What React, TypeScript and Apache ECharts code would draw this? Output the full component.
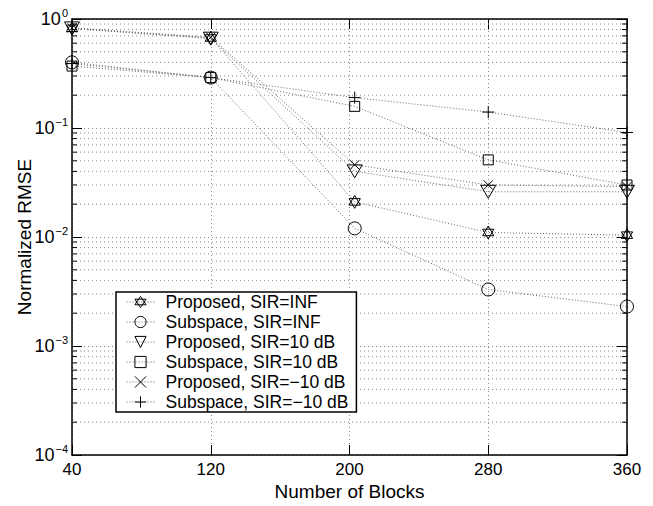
import React, { useEffect, useRef } from "react";
import * as echarts from "echarts";

const blocks = [40, 120, 203, 280, 360];
const proposedInf = [0.82, 0.67, 0.021, 0.011, 0.0104];
const subspaceInf = [0.4, 0.29, 0.012, 0.0033, 0.0023];
const proposed10 = [0.82, 0.66, 0.04, 0.026, 0.026];
const subspace10 = [0.37, 0.29, 0.158, 0.051, 0.03];
const proposedM10 = [0.83, 0.68, 0.046, 0.03, 0.029];
const subspaceM10 = [0.39, 0.29, 0.19, 0.14, 0.091];

const seriesNames = [
  "Proposed, SIR=INF",
  "Subspace, SIR=INF",
  "Proposed, SIR=10 dB",
  "Subspace, SIR=10 dB",
  "Proposed, SIR=\u221210 dB",
  "Subspace, SIR=\u221210 dB",
];

const xTicks = { min: 40, max: 360, interval: 80 };
const yRange = { min: 1e-4, max: 1 };
const minorMultipliers = [2, 3, 4, 5, 6, 7, 8, 9];
const decades = [-4, -3, -2, -1];

const SYM_HEX = "path://M10,0 L18.66,15 L1.34,15 Z M10,20 L1.34,5 L18.66,5 Z";
const SYM_TRI = "path://M0,0 L20,0 L10,17.32 Z";
const SYM_X = "path://M0,0 L10,10 M10,0 L0,10";
const SYM_PLUS = "path://M5,0 L5,10 M0,5 L10,5";

const FONT = "Liberation Sans, Arial, Helvetica, sans-serif";

export default function App() {
  const ref = useRef<HTMLDivElement>(null);
  useEffect(() => {
    document.body.style.margin = "0";
    if (!ref.current) return;
    const chart = echarts.init(ref.current, undefined, { renderer: "svg" });

    const minorVals: number[][] = [];
    decades.forEach((d) =>
      minorMultipliers.forEach((m) => minorVals.push([40, m * Math.pow(10, d)]))
    );

    const lineSt = { color: "#666", width: 1, type: [1, 2] };
    const itemSt = { color: "rgba(0,0,0,0)", borderColor: "#000", borderWidth: 1 };

    const mk = (name: string, data: number[], symbol: string, size: number) => ({
      name,
      type: "line",
      data: blocks.map((b, i) => [b, data[i]]),
      symbol,
      symbolSize: size,
      symbolKeepAspect: true,
      showAllSymbol: true,
      itemStyle: itemSt,
      lineStyle: lineSt,
      z: 5,
    });

    const axisLineStyle = { lineStyle: { color: "#000", width: 1.5 } };

    chart.setOption({
      animation: false,
      textStyle: { fontFamily: FONT },
      grid: { left: 72, top: 19, right: 26, bottom: 49, containLabel: false },
      legend: {
        data: seriesNames,
        orient: "vertical",
        left: 116,
        top: 292,
        itemWidth: 28,
        itemHeight: 14,
        itemGap: 2,
        padding: [1, 8, 1, 10],
        borderColor: "#000",
        borderWidth: 1.5,
        backgroundColor: "#fff",
        itemStyle: itemSt,
        lineStyle: lineSt,
        textStyle: { fontSize: 17.5, color: "#000", fontFamily: FONT, padding: [0, 0, 0, 6] },
        selectedMode: false,
      },
      xAxis: [
        {
          type: "value",
          ...xTicks,
          position: "bottom",
          name: "Number of Blocks",
          nameLocation: "middle",
          nameMoveOverlap: false,
          nameGap: 27,
          nameTextStyle: { fontSize: 19, color: "#000", fontFamily: FONT },
          axisLine: axisLineStyle,
          axisTick: { inside: true, length: 10, lineStyle: { color: "#000", width: 1 } },
          axisLabel: { fontSize: 17, color: "#000", margin: 6, fontFamily: FONT },
          splitLine: { show: true, lineStyle: { color: "#888", type: [1, 3], width: 1 } },
        },
        {
          type: "value",
          ...xTicks,
          position: "top",
          axisLine: axisLineStyle,
          axisTick: { inside: true, length: 10, lineStyle: { color: "#000", width: 1 } },
          axisLabel: { show: false },
          splitLine: { show: false },
        },
      ],
      yAxis: [
        {
          type: "log",
          logBase: 10,
          ...yRange,
          splitNumber: 4,
          position: "left",
          name: "Normalized RMSE",
          nameLocation: "middle",
          nameMoveOverlap: false,
          nameRotate: 90,
          nameGap: 38,
          nameTextStyle: { fontSize: 19, color: "#000", fontFamily: FONT },
          axisLine: axisLineStyle,
          axisTick: { inside: true, length: 10, lineStyle: { color: "#000", width: 1 } },
          axisLabel: {
            margin: 4,
            color: "#000",
            formatter: (v: number) => {
              const e = Math.round(Math.log10(v));
              const s = e < 0 ? "\u2212" + -e : String(e);
              return `{b|10}{e|${s}}`;
            },
            rich: {
              b: { fontSize: 18, fontFamily: FONT, color: "#000" },
              e: { fontSize: 11, fontFamily: FONT, color: "#000", padding: [0, 0, 12, 1] },
            },
          },
          splitLine: { show: true, lineStyle: { color: "#888", type: [1, 3], width: 1 } },
        },
        {
          type: "log",
          logBase: 10,
          ...yRange,
          splitNumber: 4,
          position: "right",
          axisLine: axisLineStyle,
          axisTick: { inside: true, length: 10, lineStyle: { color: "#000", width: 1 } },
          axisLabel: { show: false },
          splitLine: { show: false },
        },
      ],
      series: [
        {
          type: "custom",
          name: "minor",
          silent: true,
          xAxisIndex: 0,
          yAxisIndex: 0,
          data: minorVals,
          z: 1,
          renderItem: (params: any, api: any) => {
            const v = api.value(1);
            const p1 = api.coord([xTicks.min, v]);
            const p2 = api.coord([xTicks.max, v]);
            const y = p1[1];
            return {
              type: "group",
              children: [
                {
                  type: "line",
                  shape: { x1: p1[0], y1: y, x2: p2[0], y2: y },
                  style: { stroke: "#888", lineWidth: 1, lineDash: [1, 3] },
                },
                {
                  type: "line",
                  shape: { x1: p1[0], y1: y, x2: p1[0] + 5, y2: y },
                  style: { stroke: "#000", lineWidth: 1 },
                },
                {
                  type: "line",
                  shape: { x1: p2[0] - 5, y1: y, x2: p2[0], y2: y },
                  style: { stroke: "#000", lineWidth: 1 },
                },
              ],
            };
          },
        },
        mk(seriesNames[0], proposedInf, SYM_HEX, 13),
        mk(seriesNames[1], subspaceInf, "circle", 13),
        mk(seriesNames[2], proposed10, SYM_TRI, 15),
        mk(seriesNames[3], subspace10, "rect", 10),
        mk(seriesNames[4], proposedM10, SYM_X, 9),
        mk(seriesNames[5], subspaceM10, SYM_PLUS, 12),
      ],
    });
    return () => chart.dispose();
  }, []);
  return <div ref={ref} style={{ width: 653, height: 506 }} />;
}
